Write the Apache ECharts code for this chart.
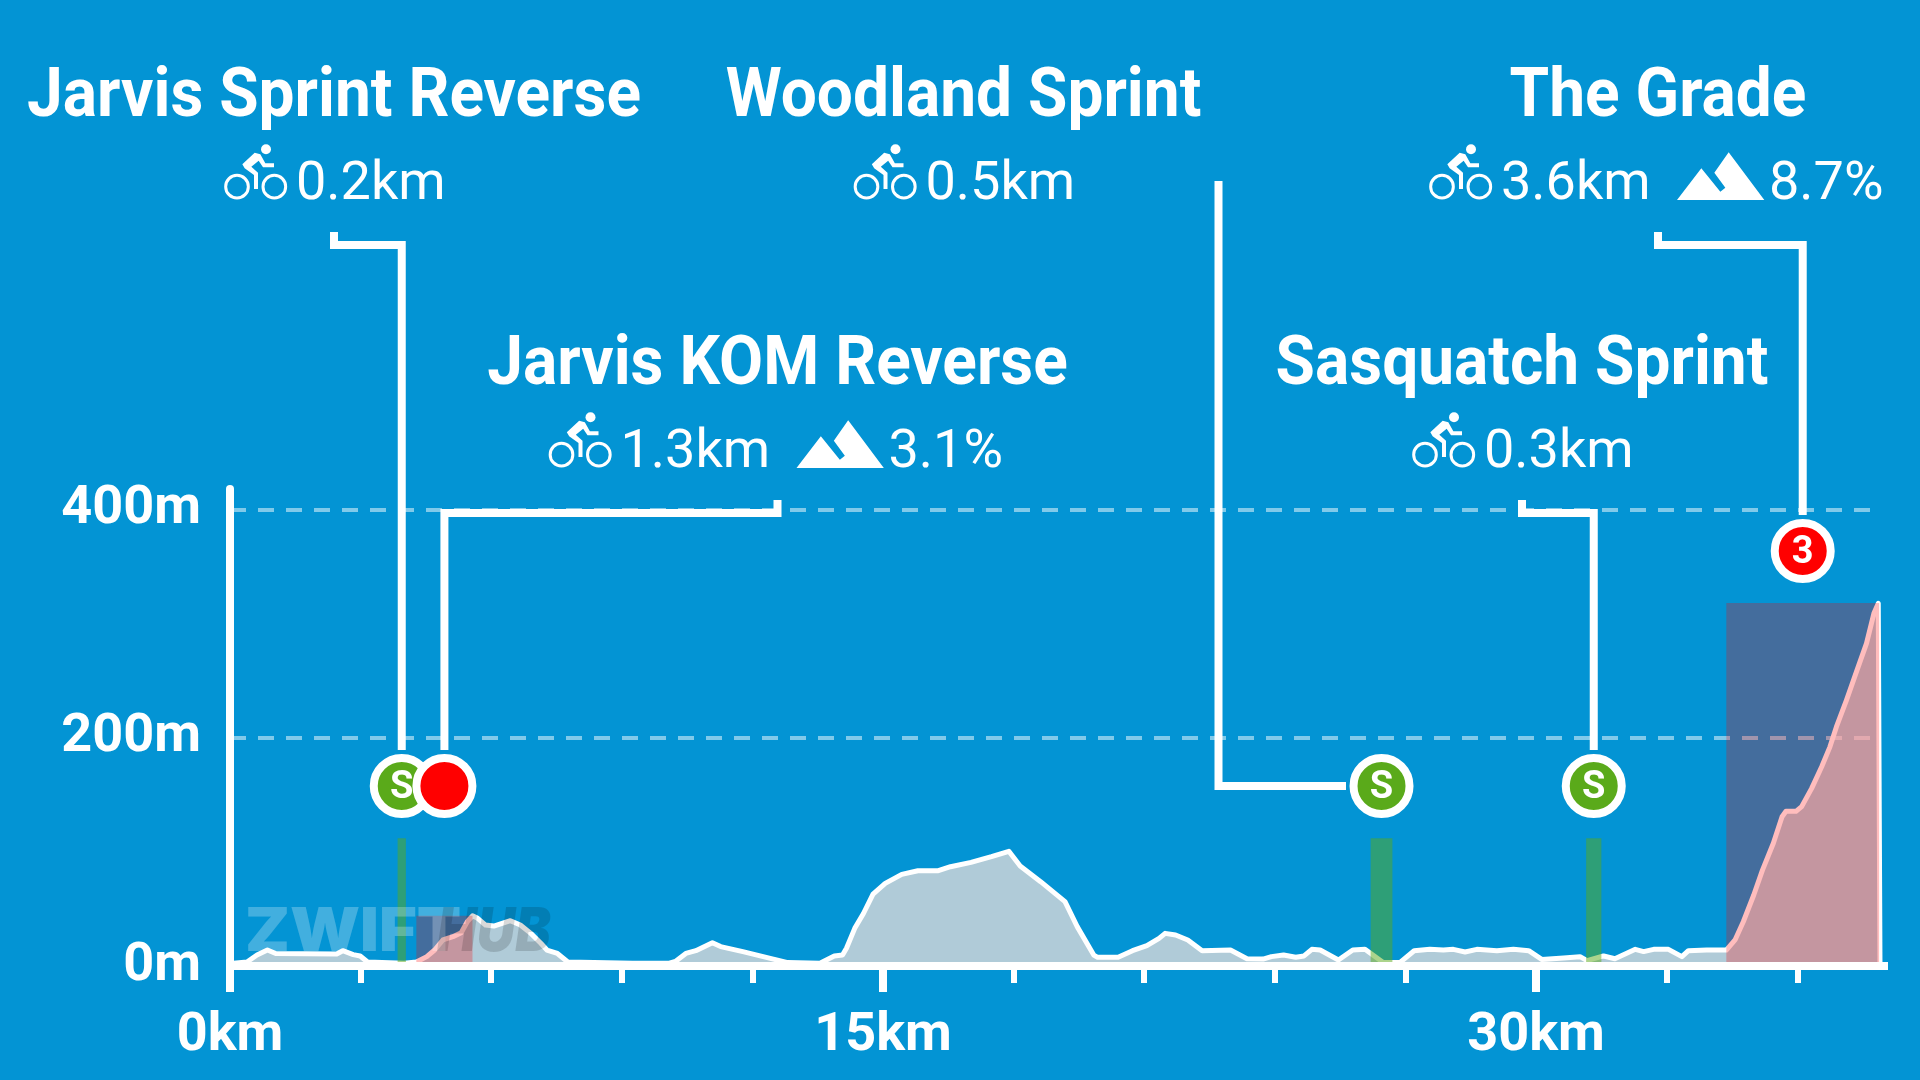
<!DOCTYPE html>
<html>
<head>
<meta charset="utf-8">
<style>html,body{margin:0;padding:0;background:#0394D4}#c{width:1920px;height:1080px}</style>
<script src="https://cdn.jsdelivr.net/npm/echarts@6/dist/echarts.min.js"></script>
</head>
<body>
<div id="c"></div>
<script>
// ---- data ----
const routeKm = [0.08,0.39,0.62,0.86,1.05,1.75,2.45,2.59,2.83,2.99,3.16,4.0,4.28,4.52,4.7,4.89,5.12,5.31,5.45,5.57,5.69,5.87,6.06,6.25,6.44,6.67,6.91,7.14,7.28,7.52,7.76,9.25,10.09,10.23,10.47,10.7,11.08,11.27,11.78,12.81,13.55,13.88,14.07,14.16,14.35,14.55,14.77,15.05,15.43,15.8,16.27,16.55,17.02,17.49,17.89,18.15,18.62,19.18,19.46,19.84,19.93,20.4,20.73,21.06,21.34,21.48,21.72,22,22.33,22.98,23.36,23.73,23.92,24.2,24.48,24.67,24.85,25.04,25.46,25.79,26.07,26.49,26.87,27.2,27.56,27.87,28.1,28.37,28.64,29.1,29.48,29.83,30.13,30.63,31.01,31.17,31.55,31.81,32.28,32.47,32.7,33.04,33.35,33.5,33.92,34.37,34.57,34.76,35.0,35.2,35.45,35.65,35.74,35.97,36.1,36.33,36.56,36.75,36.9,37.13,37.36,37.59,37.76,37.86,37.9];
const routeElevation = [2.5,3.5,9.6,14,11,10.8,10.5,13.4,10,8.8,3.5,2.5,3.5,8.2,14,22.8,25.7,29.2,38.8,44,41.8,35.9,35,37.4,39.7,35.9,28.6,19.9,14,11,3.5,2.5,2.5,4,11,13.4,20.4,17,12.6,3,2.5,8.8,9.6,15.5,33,46,63,72.4,80.3,83.5,83.5,87,90.8,95.8,100.5,87.6,73.9,56.4,34.5,9.6,7.6,7.6,13.4,17.8,24.2,28.6,27.2,22.8,13.4,14,6.4,6.1,8.2,9.6,7.6,8.8,14.6,14,5.3,14,14.6,3,3,13.4,14.6,14,14.6,12.3,14.6,13.4,14.6,13.4,5.8,7,8.2,4.7,8.8,6.4,14.6,12.6,14.6,14.6,8.2,13.4,14,14,22.8,38.8,62.2,84,107.5,130.8,135.5,135.5,139.6,155.6,174.6,192,209.7,233,257.9,282.7,309,317.7,0];
const segmentNames = ['Jarvis Sprint Reverse','Jarvis KOM Reverse','Woodland Sprint','Sasquatch Sprint','The Grade'];
const segmentTypes = ['sprint','kom','sprint','sprint','kom'];
const segmentStartKm = [3.85,4.28,26.2,31.15,34.37];
const segmentEndKm = [4.04,5.57,26.7,31.5,37.88];
const segmentTop = [112,44,112,112,318];
const segmentLength = ['0.2km','1.3km','0.5km','0.3km','3.6km'];
const segmentGrade = [null,'3.1%',null,null,'8.7%'];
const segmentBadge = ['S','','S','S','3'];
const yTicks = [0,200,400];
const xLabelTicks = [0,15,30];
const xMinorTicks = [3,6,9,12,18,21,24,27,33,36];

// ---- layout (pixels, annotations only) ----
const titleX = [334,777.5,963.5,1522,1658];
const titleY = [99,367,99,367,99];
const rowBase = [200,468,200,468,200];
const badgeY = [786,786,786,786,551];
const lineYs = [245,513,null,513,245];
const stubY = [232,500,null,500,232];
const lineEndY = [750,750,null,750,515];
const woodlandLine = {x:1218.5, top:181, y:786, end:1346};

const BG = '#0394D4', GREEN = '#5AAA1A', RED = '#FF0000';
const white = '#fff';

function cyclist(L, base){
  return {type:'group', x:L-88/3, y:base-80, scaleX:1/3, scaleY:1/3, z:50, children:[
    {type:'circle', shape:{cx:127,cy:200,r:34}, style:{fill:null,stroke:white,lineWidth:9}, z:50},
    {type:'circle', shape:{cx:239,cy:200,r:34}, style:{fill:null,stroke:white,lineWidth:9}, z:50},
    {type:'circle', shape:{cx:214,cy:88,r:15}, style:{fill:white}, z:50},
    {type:'polygon', shape:{points:[[143,133],[180,98],[197,103],[212,130],[238,130],[238,142],[205,142],[192,122],[170,140],[190,158],[190,207],[178,207],[178,165],[150,145]]}, style:{fill:white}, z:50}
  ]};
}
function mountain(L, base){
  return {type:'group', x:L-830/3, y:base-80, scaleX:1/3, scaleY:1/3, z:50, children:[
    {type:'polygon', shape:{points:[[830,240],[903,145],[960,215],[975,203],[942,158],[985,97],[1092,240]]}, style:{fill:white}, z:50}
  ]};
}
function txt(text,x,y,size,weight,align,sy){
  return {type:'text', x, y, z:50, scaleY:sy||1, style:{text, fill:white, font: weight+' '+size+'px Roboto', textAlign:align, textVerticalAlign:'middle'}};
}
const graphics = [];
segmentNames.forEach((name,i)=>{
  graphics.push(txt(name,titleX[i],titleY[i],64,700,'center',1.08));
  const two = segmentGrade[i]!==null;
  const L = titleX[i]-(two?229:110);
  const midY = rowBase[i]-15;
  graphics.push(cyclist(L,rowBase[i]));
  graphics.push(txt(segmentLength[i],L+72,midY,54,400,'left'));
  if(two){
    graphics.push(mountain(L+248,rowBase[i]));
    graphics.push(txt(segmentGrade[i],L+340,midY,54,400,'left'));
  }
});
graphics.push({type:'text',x:245,y:933,z:60,silent:true,scaleX:1.08,style:{text:'ZWIFT',fill:'rgba(255,255,255,0.25)',font:'900 60px Inter',textAlign:'left',textVerticalAlign:'middle'}});
graphics.push({type:'text',x:437,y:933,z:60,silent:true,scaleX:0.885,style:{text:'HUB',fill:'rgba(0,0,0,0.15)',font:'italic 900 60px Inter',textAlign:'left',textVerticalAlign:'middle'}});

const option = {
  backgroundColor: BG,
  animation:false,
  grid:{left:230,right:40,top:488.9,bottom:114,containLabel:false},
  xAxis:[
    {type:'value',min:0,max:37.9,z:10,splitLine:{show:false},
     axisLine:{show:true,onZero:true,lineStyle:{color:white,width:8},symbol:['none','rect'],symbolSize:[8,8],symbolOffset:[0,4]},
     axisTick:{show:true,customValues:xMinorTicks,length:17,lineStyle:{color:white,width:6}},
     axisLabel:{show:true,customValues:xLabelTicks,formatter:'{value}km',color:white,fontFamily:'Roboto',fontWeight:700,fontSize:54,margin:43}},
    {type:'value',min:0,max:37.9,position:'bottom',z:10,splitLine:{show:false},
     axisLine:{show:false},
     axisTick:{show:true,customValues:xLabelTicks,length:26,lineStyle:{color:white,width:8}},
     axisLabel:{show:false}}
  ],
  yAxis:{type:'value',min:0,max:418,interval:200,z:2.5,
    axisLine:{show:true,lineStyle:{color:white,width:8}},
    axisTick:{show:false},
    axisLabel:{color:white,fontFamily:'Roboto',fontWeight:700,fontSize:54,margin:29,showMaxLabel:false,
      formatter:v=>yTicks.includes(v)?v+'m':''},
    splitLine:{show:true,showMinLine:false,showMaxLine:false,lineStyle:{color:'rgba(255,255,255,0.5)',width:4,type:[16,12]}}
  },
  series:[
    {type:'line',name:'Elevation',z:2,clip:false,symbol:'none',smooth:false,
     data:routeKm.map((k,i)=>[k,routeElevation[i]]),
     lineStyle:{color:white,width:5,join:'round'},
     areaStyle:{color:'#B0CBD8',opacity:1}},
    {type:'custom',name:'Segments',z:3,silent:true,clip:false,
     data:segmentNames.map((n,i)=>[segmentStartKm[i],segmentEndKm[i],segmentTop[i]]),
     renderItem:(p,api)=>{
       const i=p.dataIndex;
       const a=api.coord([api.value(0),0]), b=api.coord([api.value(1),api.value(2)]);
       return {type:'rect',shape:{x:a[0],y:b[1],width:b[0]-a[0],height:a[1]-b[1]},
         style:{fill:segmentTypes[i]==='kom'?'rgba(255,0,0,0.26)':'rgba(90,170,26,0.5)'}};
     }},
    {type:'custom',name:'Callouts',z:6,silent:true,clip:false,
     data:segmentNames.map((n,i)=>[(segmentStartKm[i]+segmentEndKm[i])/2]),
     renderItem:(p,api)=>{
       const i=p.dataIndex;
       const x=api.coord([api.value(0),0])[0];
       let pts;
       if(lineYs[i]===null){
         pts=[[woodlandLine.x,woodlandLine.top],[woodlandLine.x,woodlandLine.y],[woodlandLine.end,woodlandLine.y]];
       }else{
         pts=[[titleX[i],stubY[i]],[titleX[i],lineYs[i]],[x,lineYs[i]],[x,lineEndY[i]]];
       }
       return {type:'group',children:[
         {type:'polyline',shape:{points:pts},style:{fill:null,stroke:white,lineWidth:8,lineJoin:'miter',lineCap:'butt'}},
         {type:'circle',shape:{cx:x,cy:badgeY[i],r:28},style:{fill:segmentTypes[i]==='kom'?RED:GREEN,stroke:white,lineWidth:8}},
         {type:'text',x:x,y:badgeY[i]+2,style:{text:segmentBadge[i],fill:white,font:'700 38px Roboto',textAlign:'center',textVerticalAlign:'middle'}}
       ]};
     }}
  ],
  graphic:{elements:graphics}
};
const chart = echarts.init(document.getElementById('c'),null,{renderer:'canvas'});
chart.setOption(option);
</script>
</body>
</html>
